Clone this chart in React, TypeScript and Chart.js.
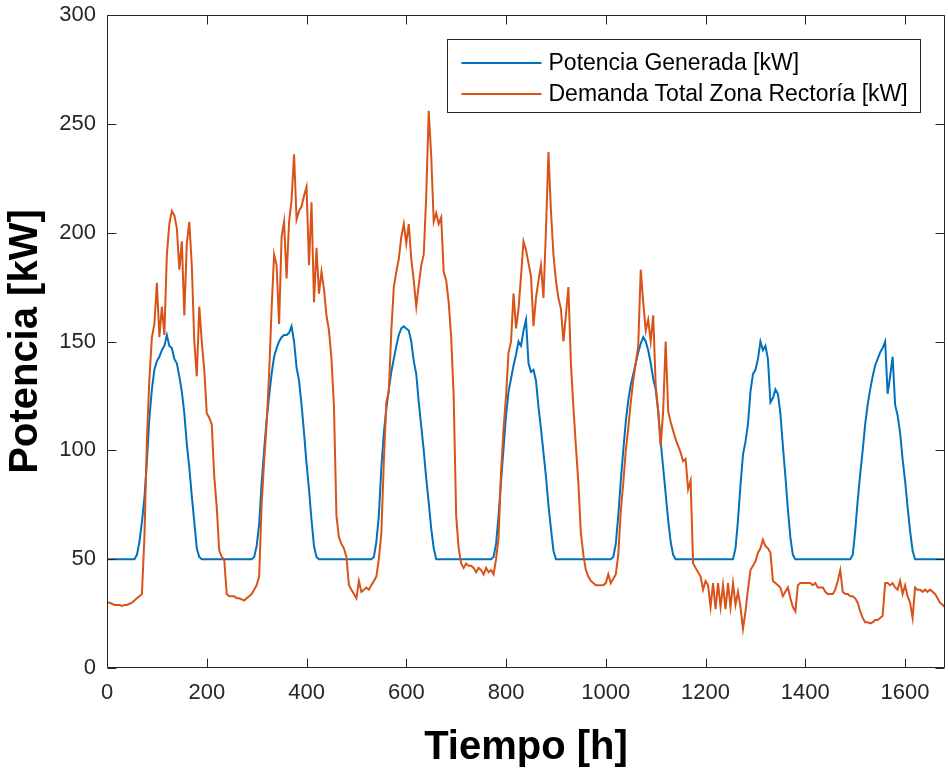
import React, { useEffect, useRef } from "react";
import { Chart, registerables } from "chart.js";

Chart.register(...registerables);

// ---- data (one sample every STEP_H hours, starting at hour 0) ----
const STEP_H = 5;
const X_MIN = 0;
const X_MAX = 1680;
const Y_MIN = 0;
const Y_MAX = 300;
const X_TICK_STEP = 200;
const Y_TICK_STEP = 50;

const SERIES_NAMES = ["Potencia Generada [kW]", "Demanda Total Zona Rectoría [kW]"];
const X_TITLE = "Tiempo [h]";
const Y_TITLE = "Potencia [kW]";

// Potencia Generada [kW]
const potenciaGenerada = [
  /*    0 */ 50, 50, 50, 50, 50, 50, 50, 50, 50, 50,
  /*   50 */ 50, 50, 52, 58, 67, 78, 95, 115, 128, 137,
  /*  100 */ 141, 143, 146, 148, 153, 148, 147, 142, 140, 134,
  /*  150 */ 127, 117, 103, 92, 79, 67, 55, 51, 50, 50,
  /*  200 */ 50, 50, 50, 50, 50, 50, 50, 50, 50, 50,
  /*  250 */ 50, 50, 50, 50, 50, 50, 50, 50, 50, 51,
  /*  300 */ 56, 66, 85, 100, 114, 125, 135, 143, 147, 150,
  /*  350 */ 152, 153, 153, 154, 157, 150, 138, 132, 121, 108,
  /*  400 */ 94, 82, 68, 56, 51, 50, 50, 50, 50, 50,
  /*  450 */ 50, 50, 50, 50, 50, 50, 50, 50, 50, 50,
  /*  500 */ 50, 50, 50, 50, 50, 50, 50, 51, 58, 70,
  /*  550 */ 92, 108, 119, 128, 136, 142, 148, 153, 156, 157,
  /*  600 */ 156, 155, 150, 141, 135, 122, 111, 100, 87, 76,
  /*  650 */ 64, 55, 50, 50, 50, 50, 50, 50, 50, 50,
  /*  700 */ 50, 50, 50, 50, 50, 50, 50, 50, 50, 50,
  /*  750 */ 50, 50, 50, 50, 50, 51, 57, 70, 86, 101,
  /*  800 */ 116, 127, 133, 139, 144, 150, 148, 155, 160, 140,
  /*  850 */ 136, 137, 132, 120, 110, 99, 88, 75, 64, 54,
  /*  900 */ 50, 50, 50, 50, 50, 50, 50, 50, 50, 50,
  /*  950 */ 50, 50, 50, 50, 50, 50, 50, 50, 50, 50,
  /* 1000 */ 50, 50, 50, 51, 57, 70, 86, 100, 113, 123,
  /* 1050 */ 130, 135, 140, 145, 149, 152, 150, 146, 140, 133,
  /* 1100 */ 128, 118, 104, 92, 80, 68, 58, 52, 50, 50,
  /* 1150 */ 50, 50, 50, 50, 50, 50, 50, 50, 50, 50,
  /* 1200 */ 50, 50, 50, 50, 50, 50, 50, 50, 50, 50,
  /* 1250 */ 50, 50, 55, 68, 84, 98, 104, 112, 127, 135,
  /* 1300 */ 137, 142, 150, 146, 148, 142, 122, 124, 128, 126,
  /* 1350 */ 117, 102, 88, 73, 60, 52, 50, 50, 50, 50,
  /* 1400 */ 50, 50, 50, 50, 50, 50, 50, 50, 50, 50,
  /* 1450 */ 50, 50, 50, 50, 50, 50, 50, 50, 50, 52,
  /* 1500 */ 63, 77, 89, 100, 112, 121, 128, 134, 139, 142,
  /* 1550 */ 145, 147, 150, 126, 134, 143, 121, 116, 108, 96,
  /* 1600 */ 86, 74, 63, 54, 50, 50, 50, 50, 50, 50,
  /* 1650 */ 50, 50, 50, 50, 50, 50, 50,
];

// Demanda Total Zona Rectoría [kW]
const demandaTotal = [
  /*    0 */ 30, 30, 29.5, 29, 29, 29, 28.5, 29, 29, 29.5,
  /*   50 */ 30, 31, 32, 33, 34, 60, 105, 133, 152, 158,
  /*  100 */ 177, 152, 166, 153, 190, 204, 210, 208, 202, 183,
  /*  150 */ 196, 162, 195, 205, 185, 150, 134, 166, 150, 137,
  /*  200 */ 117, 115, 112, 88, 74, 54, 51, 50, 34, 33,
  /*  250 */ 33, 33, 32, 32, 31.5, 31, 32, 33, 34, 36,
  /*  300 */ 38, 42, 75, 95, 112, 135, 165, 190, 185, 158,
  /*  350 */ 198, 205, 179, 205, 215, 236, 206, 210, 212, 217,
  /*  400 */ 221, 185, 214, 168, 193, 172, 182, 174, 162, 155,
  /*  450 */ 142, 120, 70, 60, 57, 55, 51, 38, 36, 34,
  /*  500 */ 32, 40, 35, 36, 37, 36, 38, 40, 42, 50,
  /*  550 */ 62, 95, 122, 127, 155, 175, 182, 188, 198, 204,
  /*  600 */ 195, 204, 188, 178, 166, 176, 185, 190, 217, 256,
  /*  650 */ 235, 205, 209, 204, 207, 182, 178, 168, 152, 125,
  /*  700 */ 70, 55, 48, 46, 48, 47, 47, 46, 44, 46,
  /*  750 */ 45, 43, 46, 44, 45, 43, 50, 60, 90, 110,
  /*  800 */ 125, 145, 150, 172, 156, 165, 180, 196, 192, 186,
  /*  850 */ 180, 157, 170, 178, 185, 170, 201, 237, 210, 190,
  /*  900 */ 178, 170, 165, 150, 162, 175, 140, 120, 102, 85,
  /*  950 */ 62, 52, 45, 42, 40, 39, 38, 38, 38, 38,
  /* 1000 */ 39, 43, 39, 41, 43, 52, 72, 85, 100, 110,
  /* 1050 */ 122, 132, 140, 148, 183, 168, 155, 160, 150, 162,
  /* 1100 */ 130, 118, 102, 118, 150, 118, 113, 109, 105, 102,
  /* 1150 */ 99, 95, 96, 82, 86, 48, 46, 44, 42, 36,
  /* 1200 */ 40, 38, 28, 39, 27, 39, 28, 38, 27, 39,
  /* 1250 */ 28, 39, 29, 35, 28, 18, 26, 36, 45, 47,
  /* 1300 */ 49, 53, 55, 59, 56, 55, 53, 40, 39, 38,
  /* 1350 */ 37, 33, 35, 37, 32, 28, 26, 38, 39, 39,
  /* 1400 */ 39, 39, 39, 38, 39, 37, 37, 37, 35, 34,
  /* 1450 */ 34, 34, 36, 40, 45, 35, 34, 34, 33, 33,
  /* 1500 */ 32, 30, 26, 23, 21, 21, 20.5, 21, 22, 22,
  /* 1550 */ 23, 24, 39, 39, 38, 39, 37, 36, 40, 34,
  /* 1600 */ 38, 33, 30, 23, 37, 36, 36, 35, 36, 35,
  /* 1650 */ 36, 35, 34, 32, 30, 29, 28,
];

const SERIES_VALUES = [potenciaGenerada, demandaTotal];
const SERIES_COLORS = ["#0072BD", "#D95319"];

const FONT = "'Liberation Sans', Arial, Helvetica, sans-serif";
const INK = "#262626";

export default function App() {
  const ref = useRef<HTMLCanvasElement | null>(null);

  useEffect(() => {
    if (!ref.current) return;
    const toPts = (arr: number[]) => arr.map((y, i) => ({ x: X_MIN + i * STEP_H, y }));

    const framePlugin = {
      id: "matlabFrame",
      afterDraw(chart: any) {
        const { ctx, chartArea: a, scales } = chart;
        ctx.save();
        ctx.strokeStyle = INK;
        ctx.lineWidth = 1;
        const L = Math.round(a.left) + 0.5;
        const R = Math.round(a.right) - 0.5;
        const T = Math.round(a.top) + 0.5;
        const B = Math.round(a.bottom) - 0.5;
        ctx.beginPath();
        ctx.rect(L, T, R - L, B - T);
        const tl = 9;
        scales.x.ticks.forEach((t: any) => {
          const p = Math.round(scales.x.getPixelForValue(t.value)) + 0.5;
          ctx.moveTo(p, B); ctx.lineTo(p, B - tl);
          ctx.moveTo(p, T); ctx.lineTo(p, T + tl);
        });
        scales.y.ticks.forEach((t: any) => {
          const p = Math.round(scales.y.getPixelForValue(t.value)) + 0.5;
          ctx.moveTo(L, p); ctx.lineTo(L + tl, p);
          ctx.moveTo(R, p); ctx.lineTo(R - tl, p);
        });
        ctx.stroke();

        // legend box (inside upper right of the axes)
        const bw = 473, bh = 73;
        const bx = Math.round(a.right - 25 - bw) + 0.5;
        const by = Math.round(a.top + 24) + 0.5;
        ctx.fillStyle = "#ffffff";
        ctx.fillRect(bx, by, bw, bh);
        ctx.strokeStyle = INK;
        ctx.strokeRect(bx, by, bw, bh);
        ctx.font = `23px ${FONT}`;
        ctx.textBaseline = "middle";
        ctx.textAlign = "left";
        SERIES_NAMES.forEach((name, i) => {
          const cy = by + 23.5 + i * 31;
          ctx.strokeStyle = SERIES_COLORS[i];
          ctx.lineWidth = 2;
          ctx.beginPath();
          ctx.moveTo(bx + 14, cy);
          ctx.lineTo(bx + 94, cy);
          ctx.stroke();
          ctx.fillStyle = "#000000";
          ctx.fillText(name, bx + 101, cy + 1);
        });
        ctx.restore();
      },
    };

    const chart = new Chart(ref.current, {
      type: "line",
      data: {
        datasets: SERIES_VALUES.map((vals, i) => ({
          label: SERIES_NAMES[i],
          data: toPts(vals),
          borderColor: SERIES_COLORS[i],
          backgroundColor: SERIES_COLORS[i],
          borderWidth: 2,
          pointRadius: 0,
          tension: 0,
          fill: false,
          order: SERIES_VALUES.length - i,
        })),
      },
      options: {
        animation: false,
        responsive: false,
        maintainAspectRatio: false,
        layout: { padding: { top: 15, right: 3, left: 0, bottom: 0 } },
        plugins: { legend: { display: false }, tooltip: { enabled: false } },
        scales: {
          x: {
            type: "linear",
            min: X_MIN,
            max: X_MAX,
            grid: { display: false, drawTicks: false },
            border: { display: false },
            afterFit: (s: any) => {
              s.height = 100;
              s.paddingLeft = 0;
              s.paddingRight = 0;
            },
            ticks: {
              stepSize: X_TICK_STEP,
              includeBounds: false,
              maxRotation: 0,
              autoSkip: false,
              padding: 12,
              color: INK,
              font: { family: FONT, size: 22 },
              callback: (v: any) => String(v),
            },
            title: {
              display: true,
              text: X_TITLE,
              color: "#000000",
              font: { family: FONT, size: 40, weight: "bold", lineHeight: 1 },
              padding: { top: 0, bottom: 0 },
            },
          },
          y: {
            type: "linear",
            min: Y_MIN,
            max: Y_MAX,
            grid: { display: false, drawTicks: false },
            border: { display: false },
            afterFit: (s: any) => {
              s.width = 107;
              s.paddingTop = 0;
              s.paddingBottom = 0;
            },
            ticks: {
              stepSize: Y_TICK_STEP,
              padding: 11,
              color: INK,
              font: { family: FONT, size: 22 },
              callback: (v: any) => String(v),
            },
            title: {
              display: true,
              text: Y_TITLE,
              color: "#000000",
              font: { family: FONT, size: 40, weight: "bold", lineHeight: 1 },
              padding: { top: 6, bottom: 0 },
            },
          },
        },
      },
      plugins: [framePlugin],
    } as any);

    return () => chart.destroy();
  }, []);

  return (
    <div style={{ position: "fixed", left: 0, top: 0, width: 948, height: 768, background: "#ffffff" }}>
      <canvas ref={ref} width={948} height={768} style={{ display: "block" }} />
    </div>
  );
}
